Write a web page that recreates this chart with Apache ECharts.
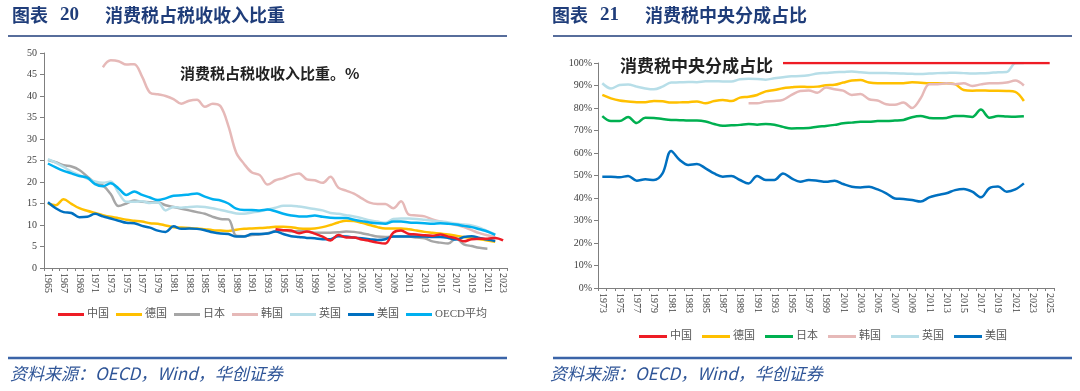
<!DOCTYPE html>
<html><head><meta charset="utf-8">
<script src="https://cdn.jsdelivr.net/npm/echarts@6/dist/echarts.min.js"></script>
<style>body{margin:0;background:#fff}#wrap{display:flex;width:1080px;height:391px}.c{width:540px;height:391px}</style>
</head><body><div id="wrap"><div id="c1" class="c"></div><div id="c2" class="c"></div></div>
<script>
// ---------- Left chart: 消费税占税收收入比重 (%) ----------
const yearsL = ['1965','1966','1967','1968','1969','1970','1971','1972','1973','1974','1975','1976','1977','1978','1979','1980','1981','1982','1983','1984','1985','1986','1987','1988','1989','1990','1991','1992','1993','1994','1995','1996','1997','1998','1999','2000','2001','2002','2003','2004','2005','2006','2007','2008','2009','2010','2011','2012','2013','2014','2015','2016','2017','2018','2019','2020','2021','2022','2023'];
const chinaL = [null,null,null,null,null,null,null,null,null,null,null,null,null,null,null,null,null,null,null,null,null,null,null,null,null,null,null,null,null,9.0,8.8,8.7,8.1,8.5,8.0,7.3,6.4,7.7,7.1,7.1,6.6,6.3,5.9,5.7,8.2,8.7,7.9,7.8,7.6,7.5,7.8,7.3,6.9,6.2,6.7,6.8,6.8,7.0,6.4];
const germanyL = [15.0,14.6,16.0,14.9,13.9,13.3,12.8,12.3,11.9,11.6,11.2,11.0,10.8,10.4,10.3,9.9,9.5,9.4,9.3,9.2,9.0,8.8,8.7,8.6,8.9,9.1,9.2,9.3,9.4,9.6,9.6,9.5,9.2,9.1,9.2,9.5,10.0,10.6,11.0,10.9,10.5,10.0,9.5,9.2,9.2,9.2,9.0,8.7,8.4,8.2,8.0,7.8,7.5,7.2,7.0,6.7,6.4,6.1,null];
const japanL = [25.1,24.6,23.9,23.6,22.8,21.3,19.8,19.2,17.2,14.4,15.0,15.7,15.4,15.3,15.3,14.6,14.2,13.8,13.4,13.0,12.6,11.9,11.4,11.3,7.5,7.4,7.7,7.8,8.1,8.6,8.8,8.5,8.6,8.5,8.2,8.2,8.2,8.3,8.5,8.4,8.1,7.7,7.3,7.2,7.3,7.4,7.3,7.1,6.9,6.2,5.9,5.7,6.9,5.5,5.1,4.7,4.5,null,null];
const koreaL = [null,null,null,null,null,null,null,46.7,48.3,48.1,47.3,47.4,44.5,40.8,40.4,40.0,39.3,38.2,38.9,39.1,37.5,38.2,37.6,33.0,26.8,24.2,22.2,21.6,19.4,20.4,20.9,21.6,22.0,20.6,20.4,19.8,21.2,18.7,18.0,17.3,16.2,15.2,14.9,14.9,13.9,15.5,12.4,12.2,12.0,11.3,10.8,10.4,10.0,9.5,8.8,8.1,7.6,7.2,null];
const ukL = [25.3,24.5,23.5,22.4,21.6,20.8,20.1,19.8,20.1,17.5,15.4,15.4,15.5,15.1,15.3,13.4,14.2,14.0,14.2,14.3,14.2,13.9,13.5,13.1,12.7,12.6,12.9,13.2,13.6,14.0,14.5,14.5,14.3,14.0,13.7,13.4,12.8,12.6,12.3,12.0,11.6,11.1,10.8,10.5,11.4,11.5,11.5,11.4,11.2,11.0,10.8,10.6,10.3,10.1,9.9,9.4,8.6,7.8,null];
const usL = [15.3,13.9,13.0,12.8,11.8,11.9,12.6,12.0,11.5,11.0,10.5,10.4,9.8,9.4,8.7,8.4,9.7,9.1,9.2,9.1,8.8,8.3,8.0,7.9,7.3,7.3,7.9,7.9,8.0,8.5,7.9,7.4,7.2,7.0,6.9,6.7,6.7,7.4,7.3,7.1,6.9,6.7,6.5,6.7,7.3,7.3,7.3,7.3,7.3,7.2,7.2,7.0,6.6,7.2,7.4,7.0,6.6,6.3,null];
const oecdL = [24.3,23.4,22.6,22.0,21.4,21.0,19.5,19.0,19.7,18.5,17.0,17.8,17.0,16.4,15.8,16.2,16.8,16.9,17.1,17.3,16.6,16.0,15.7,15.0,13.8,13.5,13.5,13.4,13.6,13.2,12.6,12.2,12.0,12.0,12.2,11.9,11.7,11.6,11.6,11.2,10.9,10.6,10.4,10.3,10.8,10.8,10.6,10.5,10.4,10.3,10.4,10.3,10.1,9.8,9.5,9.0,8.5,7.7,null];

// ---------- Right chart: 消费税中央分成占比 (%) ----------
const yearsR = ['1973','1974','1975','1976','1977','1978','1979','1980','1981','1982','1983','1984','1985','1986','1987','1988','1989','1990','1991','1992','1993','1994','1995','1996','1997','1998','1999','2000','2001','2002','2003','2004','2005','2006','2007','2008','2009','2010','2011','2012','2013','2014','2015','2016','2017','2018','2019','2020','2021','2022','2023','2024','2025'];
const chinaR = [null,null,null,null,null,null,null,null,null,null,null,null,null,null,null,null,null,null,null,null,null,100,100,100,100,100,100,100,100,100,100,100,100,100,100,100,100,100,100,100,100,100,100,100,100,100,100,100,100,100,100,100,100];
const germanyR = [85.8,84.3,83.3,82.9,82.6,82.6,83.1,83.0,82.4,82.5,82.6,82.9,82.1,83.1,83.6,83.1,84.6,85.0,85.8,87.4,88.0,88.8,89.2,89.5,89.3,89.5,90.1,90.3,91.3,92.2,92.4,91.3,91.0,91.0,91.0,91.0,91.4,91.2,91.0,91.0,91.0,90.6,88.0,87.7,87.8,87.7,87.7,87.6,87.2,83.1,null,null,null];
const japanR = [76.4,74.2,74.2,76.0,73.3,75.7,75.6,75.1,74.7,74.6,74.4,74.4,74.0,72.9,72.1,72.3,72.5,72.9,72.6,72.9,72.6,71.6,70.9,71.0,71.1,71.7,72.0,72.5,73.2,73.5,73.9,73.9,74.2,74.2,74.4,74.7,75.9,76.4,75.6,75.4,75.6,76.4,76.4,76.0,79.3,75.7,76.4,76.2,76.1,76.3,null,null,null];
const koreaR = [null,null,null,null,null,null,null,null,null,null,null,null,null,null,null,null,null,82.1,82.1,82.9,83.1,83.6,85.8,87.6,87.8,86.8,89.1,88.3,87.7,85.8,86.2,83.9,83.3,81.7,81.4,82.4,80.0,84.3,90.6,90.6,91.0,90.6,91.0,89.8,90.5,91.0,91.0,91.3,92.2,90.0,null,null,null];
const ukR = [91.0,88.7,90.2,90.5,89.5,88.7,88.3,89.5,91.3,91.4,91.6,91.5,91.9,91.9,91.8,91.8,92.8,93.0,92.9,92.6,93.2,93.7,94.1,94.2,94.6,95.3,95.6,95.9,96.0,96.2,95.9,95.6,95.6,95.6,95.4,95.3,95.2,95.1,95.3,95.5,95.6,95.7,95.5,95.3,95.4,95.6,95.9,96.0,99.9,100,null,null,null];
const usR = [49.5,49.5,49.2,49.8,47.7,48.3,48.0,50.9,60.9,56.9,54.7,55.1,53.2,50.9,49.5,49.8,48.0,46.5,49.8,48.0,48.0,50.9,48.7,47.2,48.0,47.7,47.2,47.7,46.2,45.0,44.7,45.0,43.8,42.1,39.8,39.6,39.1,38.4,40.3,41.3,42.1,43.5,44.0,42.8,40.3,44.4,45.1,42.8,43.8,46.5,null,null,null];

const SERIF = 'Liberation Serif, Noto Sans CJK SC';
const CJK = 'Noto Sans CJK SC';
const TITLE_C = '#1f3d7a';
const SRC_C = '#2f5597';

function frame(titleNum, titleText, x0, x1) {
  return [
    {type:'text', left:12, top:6, style:{text:'图表', font:'bold 18px ' + CJK, fill:TITLE_C}},
    {type:'text', left:60, top:6, style:{text:titleNum, font:'bold 19px Liberation Serif', fill:TITLE_C}},
    {type:'text', left:105, top:6, style:{text:titleText, font:'bold 18px ' + CJK, fill:TITLE_C}},
    {type:'line', shape:{x1:x0, y1:36, x2:x1, y2:36}, style:{stroke:TITLE_C, lineWidth:1.5}},
    {type:'line', shape:{x1:x0, y1:358, x2:x1, y2:358}, style:{stroke:'#3b64a8', lineWidth:2.5}},
    {type:'text', left:10, top:365, style:{text:'资料来源：OECD，Wind，华创证券', font:'italic 17px ' + CJK, fill:SRC_C}}
  ];
}

function mk(name, data, color, extra) {
  return Object.assign({type:'line', name:name, data:data, smooth:0.35, symbol:'none',
    lineStyle:{width:2.5, color:color}, itemStyle:{color:color}, connectNulls:false}, extra || {});
}

const axisCommon = {
  axisLine:{lineStyle:{color:'#7f7f7f', width:1}},
  axisTick:{lineStyle:{color:'#7f7f7f'}},
  splitLine:{show:false}
};

const c1 = echarts.init(document.getElementById('c1'));
c1.setOption({
  animation:false,
  backgroundColor:'#fff',
  graphic: frame('20', '消费税占税收收入比重', 8, 507).concat([
    {type:'text', left:180, top:66, style:{text:'消费税占税收收入比重。%', font:'bold 15px ' + CJK, fill:'#222'}}
  ]),
  grid:{left:44, right:33, top:53, bottom:123},
  legend:{left:53, top:304, itemWidth:26, itemHeight:3, itemGap:7, icon:'rect',
    textStyle:{fontSize:11, color:'#595959', fontFamily:SERIF, padding:[0,0,0,-2]},
    data:['中国','德国','日本','韩国','英国','美国','OECD平均']},
  xAxis:Object.assign({type:'category', data:yearsL, boundaryGap:true,
    axisLabel:{rotate:-90, interval:1, fontSize:10, color:'#404040', fontFamily:'Liberation Serif', margin:5}}, axisCommon,
    {axisTick:{show:true, interval:0, length:3, lineStyle:{color:'#7f7f7f'}}}),
  yAxis:Object.assign({type:'value', min:0, max:50, interval:5,
    axisLabel:{fontSize:10, color:'#404040', fontFamily:'Liberation Serif', margin:7}}, axisCommon,
    {axisLine:{show:true, lineStyle:{color:'#7f7f7f'}}, axisTick:{show:true, length:4, lineStyle:{color:'#7f7f7f'}}}),
  series:[
    mk('德国', germanyL, '#ffc000'),
    mk('日本', japanL, '#a6a6a6'),
    mk('韩国', koreaL, '#e6b9b8'),
    mk('英国', ukL, '#b7dee8'),
    mk('美国', usL, '#0070c0'),
    mk('OECD平均', oecdL, '#00b0f0'),
    mk('中国', chinaL, '#ee1c25', {z:5})
  ]
});

const c2 = echarts.init(document.getElementById('c2'));
c2.setOption({
  animation:false,
  backgroundColor:'#fff',
  graphic: frame('21', '消费税中央分成占比', 13, 532).concat([
    {type:'text', left:80, top:57, style:{text:'消费税中央分成占比', font:'bold 17px ' + CJK, fill:'#222'}}
  ]),
  grid:{left:58, right:26, top:63, bottom:103},
  legend:{left:94, top:326, itemWidth:28, itemHeight:3, itemGap:10, icon:'rect',
    textStyle:{fontSize:11, color:'#595959', fontFamily:SERIF, padding:[0,0,0,-2]},
    data:['中国','德国','日本','韩国','英国','美国']},
  xAxis:Object.assign({type:'category', data:yearsR, boundaryGap:true,
    axisLabel:{rotate:-90, interval:1, fontSize:10, color:'#404040', fontFamily:'Liberation Serif', margin:5}}, axisCommon,
    {axisTick:{show:true, interval:0, length:3, lineStyle:{color:'#7f7f7f'}}}),
  yAxis:Object.assign({type:'value', min:0, max:100, interval:10,
    axisLabel:{fontSize:10, color:'#404040', fontFamily:'Liberation Serif', margin:6, formatter:'{value}%'}}, axisCommon,
    {axisLine:{show:true, lineStyle:{color:'#7f7f7f'}}, axisTick:{show:true, length:4, lineStyle:{color:'#7f7f7f'}}}),
  series:[
    mk('德国', germanyR, '#ffc000'),
    mk('日本', japanR, '#00b050'),
    mk('韩国', koreaR, '#e6b9b8'),
    mk('英国', ukR, '#b7dee8'),
    mk('美国', usR, '#0070c0'),
    mk('中国', chinaR, '#ee1c25', {z:5})
  ]
});
</script></body></html>
